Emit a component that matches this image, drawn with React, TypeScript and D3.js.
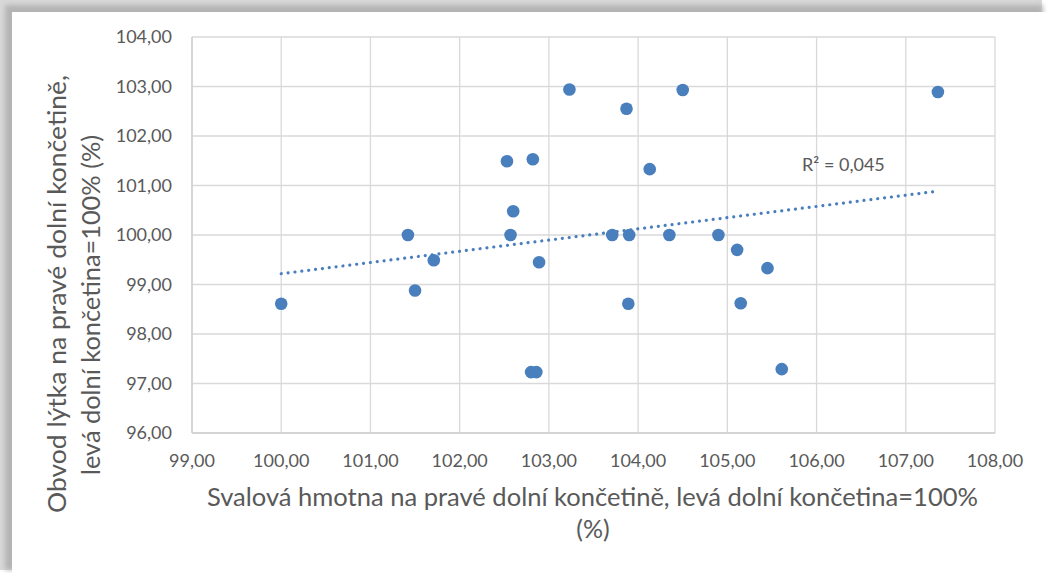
import React from "react";
import * as d3 from "d3";

const xValues = [100.0, 101.42, 101.5, 101.71, 102.53, 102.57, 102.6, 102.82, 102.8, 102.86, 102.89, 103.23, 103.71, 103.87, 103.9, 103.89, 104.13, 104.35, 104.5, 104.9, 105.11, 105.15, 105.45, 105.61, 107.36];
const yValues = [98.61, 100.0, 98.88, 99.49, 101.49, 100.0, 100.48, 101.53, 97.23, 97.23, 99.45, 102.94, 100.0, 102.55, 100.0, 98.61, 101.33, 100.0, 102.93, 100.0, 99.7, 98.62, 99.33, 97.29, 102.89];
const xTicks = [99, 100, 101, 102, 103, 104, 105, 106, 107, 108];
const yTicks = [96, 97, 98, 99, 100, 101, 102, 103, 104];
const xTitle = ["Svalová hmotna na pravé dolní končetině, levá dolní končetina=100%", "(%)"];
const yTitle = ["Obvod lýtka na pravé dolní končetině,", "levá dolní končetina=100% (%)"];
const r2Label = "R² = 0,045";

const W = 1047, H = 573;
const plot = { left: 192, right: 995, top: 37, bottom: 433 };
const FONT = "Lato, 'Open Sans', 'Liberation Sans', sans-serif";
const TEXT = "#595959";
const GRID = "#d9d9d9";
const BLUE = "#4a7fbd";

export default function App() {
  const x = d3.scaleLinear().domain([99, 108]).range([plot.left, plot.right]);
  const y = d3.scaleLinear().domain([96, 104]).range([plot.bottom, plot.top]);
  const fmt = (v: number) => v.toFixed(2).replace(".", ",");

  // linear regression
  const n = xValues.length;
  const mx = d3.mean(xValues)!;
  const my = d3.mean(yValues)!;
  let sxy = 0, sxx = 0;
  for (let i = 0; i < n; i++) {
    sxy += (xValues[i] - mx) * (yValues[i] - my);
    sxx += (xValues[i] - mx) ** 2;
  }
  const slope = sxy / sxx;
  const icpt = my - slope * mx;
  const [x0, x1] = d3.extent(xValues) as [number, number];
  const line = d3.line<number>().x((v) => x(v)).y((v) => y(icpt + slope * v));

  return (
    <svg width={W} height={H} style={{ position: "absolute", left: 0, top: 0, display: "block" }} fontFamily={FONT}>
      <defs>
        <filter id="blur" x="-5%" y="-5%" width="110%" height="110%">
          <feGaussianBlur stdDeviation="2.5" />
        </filter>
      </defs>
      <rect x={0} y={0} width={W} height={H} fill="#ffffff" />
      <rect x={0} y={0} width={1042} height={570} fill="#d8d8d8" />
      <rect x={5} y={5} width={1038} height={565} fill="#b4b4b4" filter="url(#blur)" />
      <rect x={12} y={12} width={W - 12} height={H - 12} fill="#ffffff" />

      {/* gridlines */}
      {xTicks.map((t) => (
        <line key={"gx" + t} x1={x(t)} x2={x(t)} y1={plot.top} y2={plot.bottom} stroke={GRID} strokeWidth={1.3} />
      ))}
      {yTicks.map((t) => (
        <line key={"gy" + t} x1={plot.left} x2={plot.right} y1={y(t)} y2={y(t)} stroke={GRID} strokeWidth={1.3} />
      ))}
      <line x1={plot.left} x2={plot.left} y1={plot.top} y2={plot.bottom} stroke="#d0d0d0" strokeWidth={1.5} />
      <line x1={plot.left} x2={plot.right} y1={plot.bottom} y2={plot.bottom} stroke="#d0d0d0" strokeWidth={1.5} />

      {/* tick labels */}
      {yTicks.map((t) => (
        <text key={"ty" + t} x={172} y={y(t)} dy="0.36em" textAnchor="end" fontSize={18} fill={TEXT}>
          {fmt(t)}
        </text>
      ))}
      {xTicks.map((t) => (
        <text key={"tx" + t} x={x(t)} y={467} textAnchor="middle" fontSize={18} fill={TEXT}>
          {fmt(t)}
        </text>
      ))}

      {/* points */}
      {xValues.map((v, i) => (
        <circle key={"p" + i} cx={x(v)} cy={y(yValues[i])} r={6.3} fill={BLUE} />
      ))}

      {/* trendline */}
      <path d={line([x0, x1]) || ""} fill="none" stroke={BLUE} strokeWidth={3.2} strokeLinecap="round" strokeDasharray="0.01 6.9" />
      <text x={802} y={171} fontSize={18} fill={TEXT}>{r2Label}</text>

      {/* axis titles */}
      <text x={592.5} y={506} textAnchor="middle" fontSize={25} fill={TEXT} textLength={771} lengthAdjust="spacingAndGlyphs">
        {xTitle[0]}
      </text>
      <text x={593} y={538} textAnchor="middle" fontSize={25} fill={TEXT}>
        {xTitle[1]}
      </text>
      <text transform="translate(65.5,294) rotate(-90)" textAnchor="middle" fontSize={25} fill={TEXT} textLength={438} lengthAdjust="spacingAndGlyphs">
        {yTitle[0]}
      </text>
      <text transform="translate(100,305) rotate(-90)" textAnchor="middle" fontSize={25} fill={TEXT} textLength={340} lengthAdjust="spacingAndGlyphs">
        {yTitle[1]}
      </text>
    </svg>
  );
}
